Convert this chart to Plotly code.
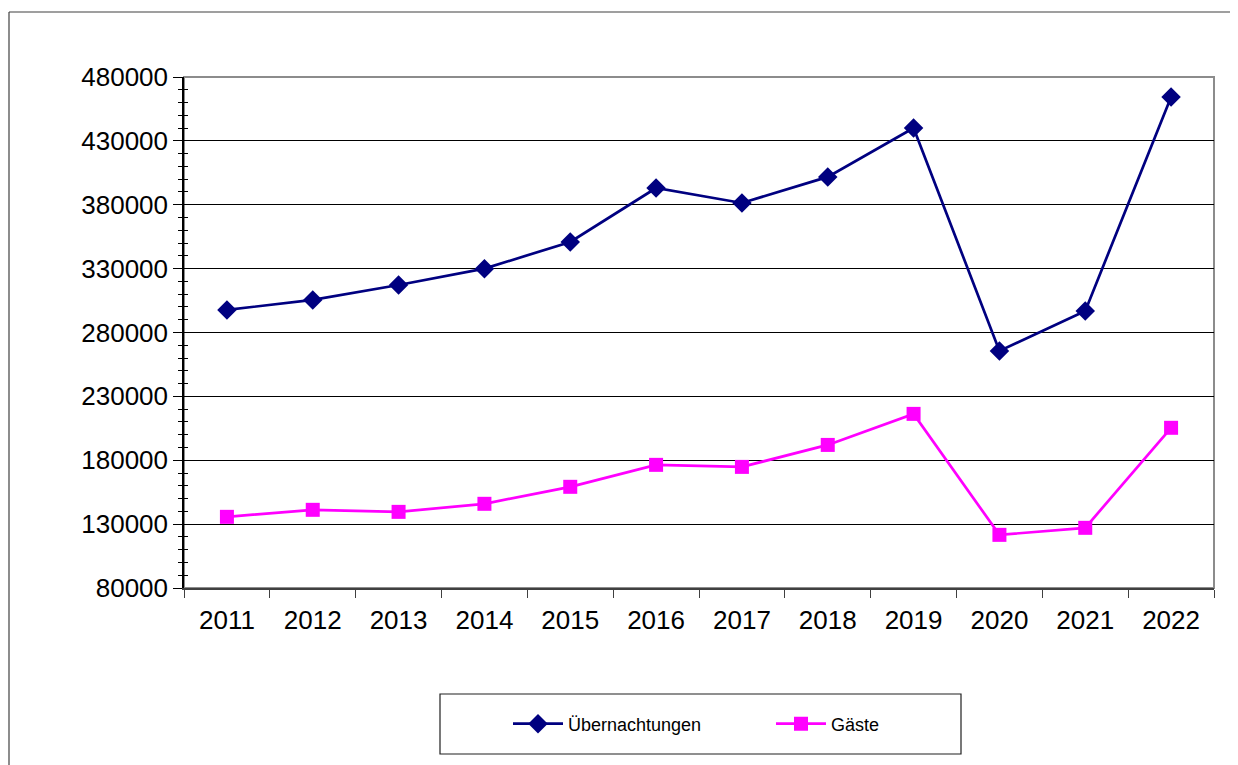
import plotly.graph_objects as go

years = ["2011", "2012", "2013", "2014", "2015", "2016", "2017", "2018", "2019", "2020", "2021", "2022"]
uebernachtungen = [297700, 305500, 317200, 330000, 350900, 393100, 381400, 401800, 440100, 265600, 296900, 464400]
gaeste = [135700, 141200, 139600, 145900, 159200, 176400, 174800, 192000, 216300, 121600, 127100, 205400]
y_ticks = [80000, 130000, 180000, 230000, 280000, 330000, 380000, 430000, 480000]

# page has an 8px body margin, so the figure is drawn starting at (8, 8)
OFF = 8
W, H = 1238 - OFF, 765 - OFF
L, R, T, B = 184, 1214, 77, 588

def px(x):
    return (x - L) / (R - L)

def py(y):
    return (B - y) / (B - T)

FONT = "Liberation Sans, Arial, sans-serif"

fig = go.Figure()
fig.add_trace(go.Scatter(
    x=years, y=uebernachtungen, name="Übernachtungen", mode="lines+markers",
    line=dict(color="#000080", width=2.7),
    marker=dict(symbol="diamond", size=15, color="#000080"),
))
fig.add_trace(go.Scatter(
    x=years, y=gaeste, name="Gäste", mode="lines+markers",
    line=dict(color="#FF00FF", width=2.7),
    marker=dict(symbol="square", size=14, color="#FF00FF"),
))
fig.add_trace(go.Scatter(x=[years[0]], y=[None], yaxis="y2", showlegend=False, hoverinfo="skip"))

fig.update_layout(
    width=W, height=H,
    margin=dict(l=L - OFF, r=1238 - R, t=T - OFF, b=765 - B),
    paper_bgcolor="white", plot_bgcolor="white",
    font=dict(family=FONT, color="black"),
    showlegend=True,
    legend=dict(
        orientation="h", x=px(508), xanchor="left", y=py(724), yanchor="middle",
        font=dict(family=FONT, size=18, color="black"),
        bgcolor="rgba(0,0,0,0)", borderwidth=0,
        itemwidth=50, entrywidth=198, entrywidthmode="pixels",
    ),
    xaxis=dict(
        type="category", range=[-0.5, 11.5], tickson="boundaries", ticks="outside", ticklen=8,
        tickcolor="#404040", showline=True, linecolor="#404040", linewidth=1.5,
        showgrid=False, tickfont=dict(size=26, family=FONT, color="black"),
        zeroline=False, ticklabelstandoff=8,
    ),
    yaxis=dict(
        range=[80000, 480000], tickvals=y_ticks, ticktext=[str(v) for v in y_ticks],
        ticks="outside", ticklen=9, tickcolor="black", showline=True, linecolor="black",
        linewidth=1.5, showgrid=True, gridcolor="black", gridwidth=1,
        tickfont=dict(size=26, family=FONT, color="black"), zeroline=False,
        minor=dict(dtick=10000, ticks="outside", ticklen=4, tickcolor="black", showgrid=False),
    ),
    yaxis2=dict(
        range=[80000, 480000], overlaying="y", side="left", dtick=10000,
        ticks="inside", ticklen=4, tickcolor="black", showticklabels=False,
        showgrid=False, showline=False, zeroline=False,
    ),
    shapes=[
        dict(type="rect", xref="paper", yref="paper", x0=0, x1=1, y0=0, y1=1,
             line=dict(color="#8c8c8c", width=2), layer="below"),
        # outer chart border: left and top edges (right/bottom run off the page)
        dict(type="line", xref="paper", yref="paper", x0=px(9), x1=px(9), y0=py(12), y1=py(820),
             line=dict(color="#404040", width=1.2)),
        dict(type="line", xref="paper", yref="paper", x0=px(9), x1=px(1300), y0=py(12), y1=py(12),
             line=dict(color="#404040", width=1.2)),
        dict(type="rect", xref="paper", yref="paper", x0=px(440), x1=px(961), y0=py(754), y1=py(694),
             line=dict(color="#202020", width=1.2)),
    ],
)

fig.write_html("out.html")
